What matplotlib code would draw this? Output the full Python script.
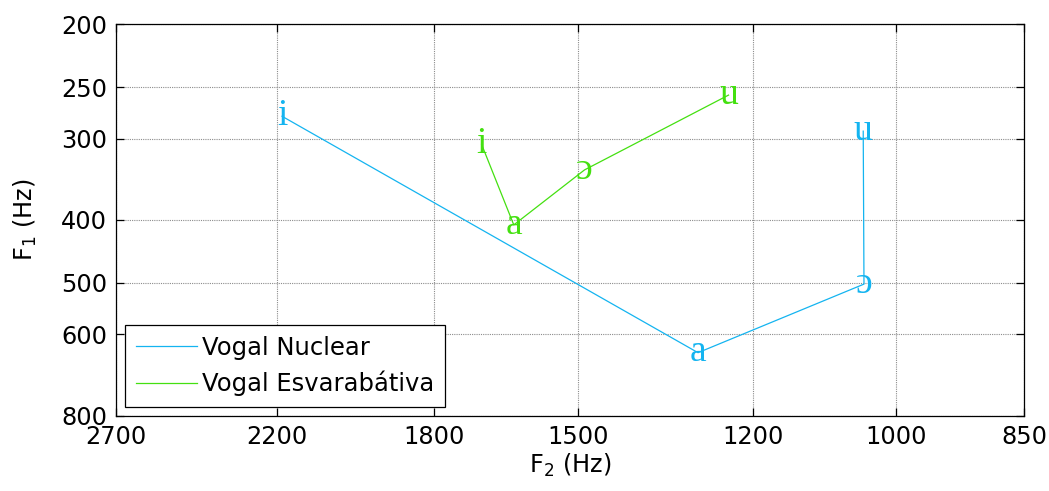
import matplotlib
matplotlib.use("Agg")
import matplotlib.pyplot as plt
from matplotlib.ticker import FixedLocator, FixedFormatter, NullLocator

# Formant means (Hz) for each vowel, in plotting order
vowels = ["i", "a", "ɔ", "u"]
nuclear_f2 = [2185, 1287, 1042, 1043]
nuclear_f1 = [277, 640, 502, 292]
epenthetic_f2 = [1695, 1627, 1487, 1238]
epenthetic_f1 = [306, 407, 335, 257]

series_names = ["Vogal Nuclear", "Vogal Esvarabátiva"]
f2_ticks = [2700, 2200, 1800, 1500, 1200, 1000, 850]
f1_ticks = [200, 250, 300, 400, 500, 600, 800]

blue = "#14B4F0"
green = "#44E010"

plt.rcParams["font.family"] = ["DejaVu Sans"]
plt.rcParams["mathtext.default"] = "regular"

fig = plt.figure(figsize=(10.49, 4.91), dpi=100)
ax = fig.add_axes([0.1103, 0.1534, 0.8659, 0.7971])

ax.set_xscale("log")
ax.set_yscale("log")

ax.plot(nuclear_f2, nuclear_f1, color=blue, lw=0.9, label=series_names[0])
ax.plot(epenthetic_f2, epenthetic_f1, color=green, lw=0.9, label=series_names[1])

# vowel symbols written over each formant point (baseline just below it)
vowel_font = ["Liberation Serif", "DejaVu Serif"]
for names, xs, ys, col in ((vowels, nuclear_f2, nuclear_f1, blue),
                           (vowels, epenthetic_f2, epenthetic_f1, green)):
    for v, x, y in zip(names, xs, ys):
        ax.annotate(v, (x, y), xytext=(0, -6.2), textcoords="offset points",
                    color=col, fontsize=27, family=vowel_font,
                    ha="center", va="baseline")

ax.set_xlim(2700, 850)
ax.set_ylim(800, 200)

ax.xaxis.set_major_locator(FixedLocator(f2_ticks))
ax.xaxis.set_major_formatter(FixedFormatter([str(t) for t in f2_ticks]))
ax.xaxis.set_minor_locator(NullLocator())
ax.yaxis.set_major_locator(FixedLocator(f1_ticks))
ax.yaxis.set_major_formatter(FixedFormatter([str(t) for t in f1_ticks]))
ax.yaxis.set_minor_locator(NullLocator())

ax.tick_params(axis="both", which="major", direction="in", length=6,
               width=0.9, labelsize=17.3, top=True, right=True)
ax.tick_params(axis="y", pad=6)
ax.tick_params(axis="x", pad=7)

ax.grid(True, which="major", color="#8c8c8c", linestyle=(0, (1, 1)), lw=0.8)
ax.set_axisbelow(True)
for s in ax.spines.values():
    s.set_linewidth(0.9)

ax.set_xlabel("F$_2$ (Hz)", fontsize=17.3, labelpad=2)
ax.set_ylabel("F$_1$ (Hz)", fontsize=17.3, labelpad=16)

leg = ax.legend(loc="lower left", bbox_to_anchor=(125 / 1049, 1 - 407.3 / 491),
                bbox_transform=fig.transFigure, borderaxespad=0,
                fontsize=17.5, fancybox=False, framealpha=1, edgecolor="black",
                handlelength=2.5, handletextpad=0.2, labelspacing=0.45,
                borderpad=0.45)
leg.get_frame().set_linewidth(0.9)

fig.savefig("out.png", dpi=100)
